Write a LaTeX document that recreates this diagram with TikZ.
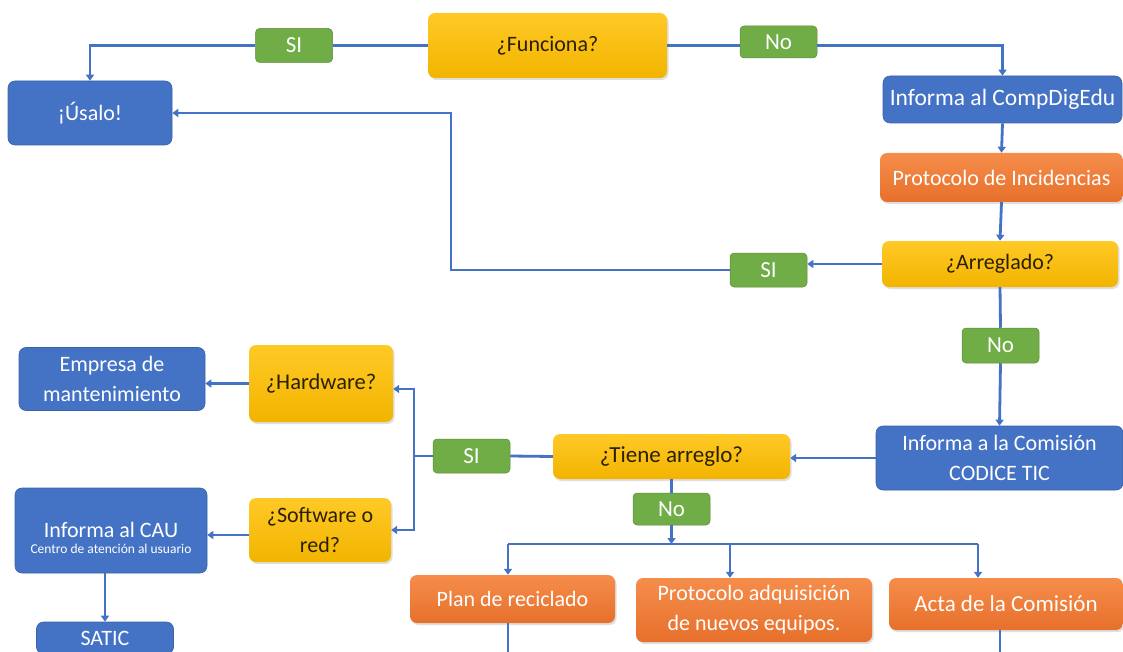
\documentclass[tikz,border=0pt]{standalone}
\usepackage{fontspec}
\setmainfont{Carlito}
\usetikzlibrary{arrows.meta,shadows,calc}
\definecolor{cblue}{HTML}{4472C4}
\definecolor{cline}{HTML}{4472C4}
\definecolor{cgreen}{HTML}{70AD47}
\definecolor{cyelA}{HTML}{FFC926}
\definecolor{cyelB}{HTML}{F2B400}
\definecolor{corA}{HTML}{F68D4B}
\definecolor{corB}{HTML}{E6702B}
\definecolor{ctxt}{HTML}{2B2100}
\begin{document}
\begin{tikzpicture}[x=1pt,y=-1pt,
  every node/.style={font=\fontsize{22}{30}\selectfont, align=center, inner sep=0pt},
  bluebox/.style={fill=cblue, draw=cblue!85!black, line width=0.6pt, rounded corners=7pt, text=white},
  yelbox/.style={top color=cyelA, bottom color=cyelB, draw=none, rounded corners=7pt, text=ctxt,
     drop shadow={shadow xshift=1.5pt, shadow yshift=-2pt, opacity=0.25}},
  orbox/.style={top color=corA, bottom color=corB, draw=none, rounded corners=7pt, text=white,
     drop shadow={shadow xshift=1.5pt, shadow yshift=-2pt, opacity=0.25}},
  lab/.style={fill=cgreen, draw=cgreen!80!black, line width=0.5pt, rounded corners=4pt, text=white,
     minimum width=77pt, minimum height=34pt, font=\fontsize{23}{30}\selectfont},
  conn/.style={draw=cline, line width=2.8pt},
  arr/.style={conn, -{Triangle[width=8pt,length=6pt]}},
]
\useasboundingbox (0,0) rectangle (1123,652);
\fill[white] (0,0) rectangle (1123,652);
\clip (0,0) rectangle (1123,652);

% nodes
\node[bluebox, minimum width=164pt, minimum height=64pt] (usalo) at (90,113) {¡Úsalo!};
\node[lab] (si1) at (294,45.5) {SI};
\node[yelbox, minimum width=239pt, minimum height=65pt] (fun) at (547.5,45.5) {¿Funciona?};
\node[lab, minimum height=32pt] (no1) at (778.5,42) {No};
\node[bluebox, minimum width=239pt, minimum height=47pt, font=\fontsize{23.5}{30}\selectfont] (comp) at (1002.5,99.5) {Informa al CompDigEdu};
\node[orbox, minimum width=243pt, minimum height=49pt] (prot) at (1001.5,177.5) {Protocolo de Incidencias};
\node[yelbox, minimum width=236pt, minimum height=46pt] (arreg) at (1000,264) {¿Arreglado?};
\node[lab] (si2) at (768.5,270) {SI};
\node[lab, minimum height=35pt] (no2) at (1000.5,345.5) {No};
\node[bluebox, minimum width=247pt, minimum height=64pt] (comi) at (999.5,458) {Informa a la Comisión\\CODICE TIC};
\node[yelbox, minimum width=237pt, minimum height=45pt, font=\fontsize{23}{30}\selectfont] (tiene) at (671.5,456.5) {¿Tiene arreglo?};
\node[lab] (si3) at (471.5,456) {SI};
\node[yelbox, minimum width=144pt, minimum height=77pt, font=\fontsize{22.5}{30}\selectfont] (hard) at (321,383.5) {¿Hardware?};
\node[yelbox, minimum width=142pt, minimum height=64pt] (soft) at (320,530) {¿Software o\\red?};
\node[bluebox, minimum width=186pt, minimum height=63pt] (emp) at (112,379) {Empresa de\\mantenimiento};
\node[bluebox, minimum width=192pt, minimum height=85pt] (cau) at (111,530.5)
  {\raisebox{-14pt}[0pt][0pt]{\begin{tabular}{@{}c@{}}Informa al CAU\\[-14pt]{\fontsize{13.5}{14}\selectfont Centro de atención al usuario}\end{tabular}}};
\node[bluebox, minimum width=137pt, minimum height=32pt] (satic) at (105,638) {SATIC};
\node[lab, minimum height=32pt] (no3) at (671.5,509) {No};
\node[orbox, minimum width=205pt, minimum height=48pt] (plan) at (512.5,599) {Plan de reciclado};
\node[orbox, minimum width=236pt, minimum height=64pt] (padq) at (754,610) {Protocolo adquisición\\de nuevos equipos.};
\node[orbox, minimum width=234pt, minimum height=52pt, font=\fontsize{23}{30}\selectfont] (acta) at (1006,604) {Acta de la Comisión};

% coordinates
\coordinate (k1) at (451,270);
\coordinate (k2) at (414,456);
\coordinate (k3) at (414,389);
\coordinate (j) at (671.5,544);
\coordinate (pl) at (508,544);
\coordinate (pm) at (730,544);
\coordinate (pr) at (978,544);
\coordinate (pb) at (508,700);
\coordinate (ab) at (1000,700);

% connectors
\draw[conn] (fun.west) -- (si1.east);
\draw[arr] (si1.west) -| (usalo.north);
\draw[conn] (fun.east) -- (no1.west |- fun.east);
\draw[arr] (no1.east |- fun.east) -| (comp.north);
\draw[arr] (comp.south) -- (prot.north);
\draw[arr] (prot.south) -- (arreg.north);
\draw[arr] (arreg.west) -- (arreg.west -| si2.east);
\draw[arr] (si2.west) -- (k1) |- (usalo.east);
\draw[conn] (arreg.south) -- (no2.north);
\draw[arr] (no2.south) -- (comi.north);
\draw[arr] (comi.west) -- (comi.west -| tiene.east);
\draw[conn] (tiene.west) -- (si3.east);
\draw[conn] (si3.west) -- (k2);
\draw[arr] (k2) -- (k3) -- (k3 -| hard.east);
\draw[arr] (k2) |- (soft.east);
\draw[arr] (hard.west) -- (hard.west -| emp.east);
\draw[arr] ($(soft.west)+(0,5)$) -- ($(soft.west -| cau.east)+(0,5)$);
\draw[arr] (satic.north |- cau.south) -- (satic.north);
\draw[conn] (tiene.south) -- (no3.north);
\draw[arr] (no3.south) -- (j);
\draw[conn] (pl) -- (pr);
\draw[arr] (pl) -- (pl |- plan.north);
\draw[arr] (pm) -- (pm |- padq.north);
\draw[arr] (pr) -- (pr |- acta.north);
\draw[conn] (pb |- plan.south) -- (pb);
\draw[conn] (ab |- acta.south) -- (ab);
\end{tikzpicture}
\end{document}
